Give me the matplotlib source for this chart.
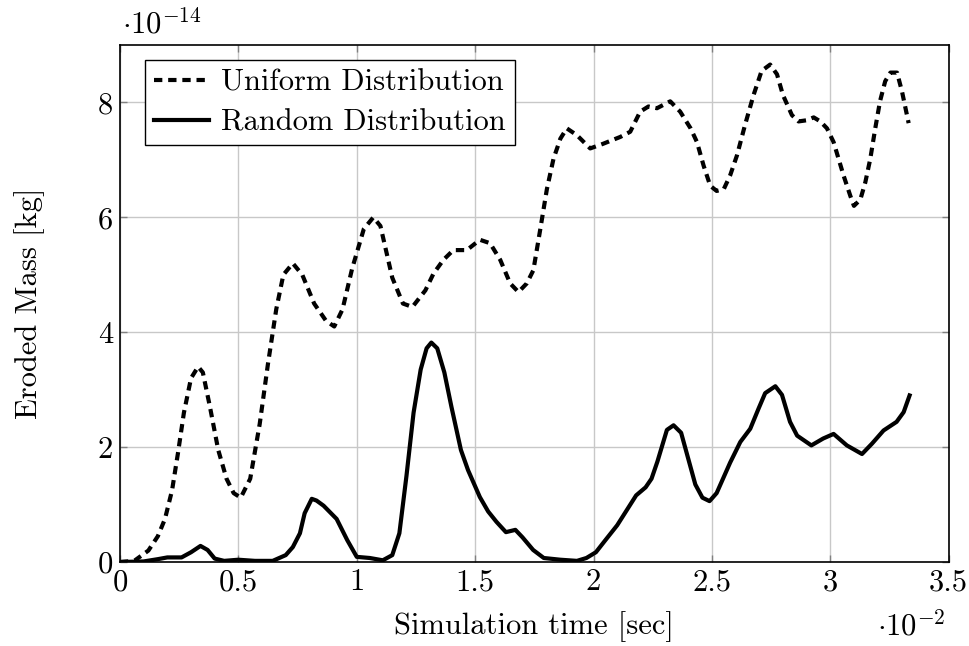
import matplotlib
matplotlib.use("Agg")
import matplotlib.pyplot as plt

plt.rcParams['font.family'] = 'serif'
plt.rcParams['font.serif'] = ['cmr10', 'DejaVu Serif']
plt.rcParams['mathtext.fontset'] = 'cm'
plt.rcParams['axes.unicode_minus'] = False
plt.rcParams['axes.formatter.use_mathtext'] = True

# time in units of 1e-2 s, mass in units of 1e-14 kg
uniform_t = [0.00, 0.06, 0.12, 0.16, 0.19, 0.22, 0.245, 0.27, 0.30, 0.33, 0.35, 0.38, 0.415,
             0.45, 0.48, 0.51, 0.55, 0.59, 0.625, 0.66, 0.69, 0.73, 0.77, 0.82, 0.87, 0.905,
             0.94, 0.98, 1.03, 1.07, 1.10, 1.15, 1.195, 1.235, 1.29, 1.324, 1.366, 1.408,
             1.465, 1.52, 1.563, 1.606, 1.648, 1.683, 1.718, 1.746, 1.775, 1.803, 1.831,
             1.86, 1.887, 1.93, 1.986, 2.04, 2.113, 2.155, 2.197, 2.232, 2.268, 2.324, 2.366,
             2.41, 2.437, 2.465, 2.493, 2.52, 2.55, 2.577, 2.606, 2.64, 2.676, 2.71, 2.746,
             2.775, 2.80, 2.838, 2.866, 2.90, 2.93, 2.958, 2.986, 3.014, 3.035, 3.056, 3.085,
             3.10, 3.127, 3.148, 3.169, 3.19, 3.21, 3.232, 3.254, 3.282, 3.303, 3.331]
uniform_m = [0.0, 0.02, 0.2, 0.45, 0.75, 1.25, 1.9, 2.6, 3.2, 3.4, 3.3, 2.7, 1.95,
             1.45, 1.2, 1.12, 1.45, 2.4, 3.45, 4.4, 5.0, 5.2, 5.0, 4.5, 4.2, 4.1,
             4.4, 5.1, 5.8, 6.0, 5.85, 4.95, 4.5, 4.44, 4.73, 5.02, 5.26, 5.43,
             5.43, 5.61, 5.55, 5.26, 4.85, 4.7, 4.85, 5.08, 5.79, 6.49, 7.02,
             7.37, 7.55, 7.43, 7.2, 7.28, 7.4, 7.49, 7.84, 7.93, 7.9, 8.02, 7.84,
             7.55, 7.31, 6.9, 6.55, 6.46, 6.49, 6.73, 7.08, 7.61, 8.13, 8.55, 8.66,
             8.49, 8.13, 7.78, 7.67, 7.69, 7.74, 7.67, 7.55, 7.31, 7.02, 6.73, 6.37,
             6.2, 6.31, 6.61, 7.02, 7.55, 8.02, 8.37, 8.52, 8.52, 8.19, 7.64]

random_t = [0.00, 0.10, 0.16, 0.20, 0.26, 0.30, 0.34, 0.37, 0.40, 0.44, 0.50, 0.57, 0.645,
            0.70, 0.73, 0.76, 0.78, 0.81, 0.83, 0.86, 0.915, 0.96, 1.00, 1.055, 1.11, 1.15,
            1.18, 1.21, 1.24, 1.27, 1.295, 1.315, 1.34, 1.37, 1.40, 1.44, 1.47, 1.52, 1.555,
            1.59, 1.63, 1.67, 1.70, 1.745, 1.79, 1.86, 1.93, 1.97, 2.01, 2.05, 2.10, 2.14,
            2.18, 2.22, 2.245, 2.27, 2.31, 2.338, 2.37, 2.40, 2.43, 2.46, 2.49, 2.52, 2.577,
            2.62, 2.662, 2.697, 2.725, 2.768, 2.796, 2.83, 2.86, 2.92, 2.97, 3.014, 3.07,
            3.134, 3.176, 3.225, 3.28, 3.31, 3.335]
random_m = [0.0, 0.01, 0.05, 0.08, 0.08, 0.17, 0.28, 0.21, 0.06, 0.02, 0.04, 0.02, 0.02,
            0.12, 0.26, 0.5, 0.85, 1.1, 1.07, 0.98, 0.75, 0.38, 0.09, 0.07, 0.03, 0.12,
            0.5, 1.5, 2.6, 3.35, 3.72, 3.82, 3.72, 3.3, 2.7, 1.95, 1.6, 1.13, 0.88,
            0.7, 0.52, 0.56, 0.43, 0.21, 0.07, 0.04, 0.02, 0.07, 0.17, 0.38, 0.64, 0.9,
            1.16, 1.3, 1.45, 1.75, 2.3, 2.38, 2.25, 1.8, 1.35, 1.12, 1.06, 1.2, 1.73,
            2.09, 2.32, 2.67, 2.94, 3.06, 2.91, 2.44, 2.2, 2.03, 2.15, 2.23, 2.03,
            1.88, 2.06, 2.29, 2.44, 2.61, 2.9]

x_ticks = [0, 0.5, 1, 1.5, 2, 2.5, 3, 3.5]
x_tick_labels = ['0', '0.5', '1', '1.5', '2', '2.5', '3', '3.5']
y_ticks = [0, 2, 4, 6, 8]
y_tick_labels = ['0', '2', '4', '6', '8']

FS = 22

fig = plt.figure(figsize=(9.7, 6.46), dpi=100)
ax = fig.add_axes([0.1237, 0.13, 0.978 - 0.1237, 0.9303 - 0.13])

ax.plot(uniform_t, uniform_m, color='black', linewidth=3.0,
        linestyle=(0, (2.0, 1.4)), dash_capstyle='butt', label='Uniform Distribution')
ax.plot(random_t, random_m, color='black', linewidth=3.0, solid_joinstyle='round',
        label='Random Distribution')

ax.set_xlim(0, 3.5)
ax.set_ylim(0, 9)
ax.set_xticks(x_ticks)
ax.set_xticklabels(x_tick_labels, fontsize=FS)
ax.set_yticks(y_ticks)
ax.set_yticklabels(y_tick_labels, fontsize=FS)
ax.grid(True, color='#c8c8c8', linewidth=1.0)
ax.set_axisbelow(True)
ax.tick_params(direction='in', length=5, width=1.0, color='#808080',
               top=True, right=True, pad=5)
for s in ax.spines.values():
    s.set_linewidth(1.2)
    s.set_color('black')

ax.set_xlabel('Simulation time [sec]', fontsize=FS)
ax.xaxis.set_label_coords(0.5, -0.095)
ax.set_ylabel('Eroded Mass [kg]', fontsize=FS)
ax.yaxis.set_label_coords(-0.09, 0.5)

fig.text(0.126, 0.963, r'$\cdot 10^{-14}$', fontsize=FS, ha='left', va='center')
fig.text(0.940, 0.032, r'$\cdot 10^{-2}$', fontsize=FS, ha='center', va='center')

leg = ax.legend(loc='upper left', bbox_to_anchor=(0.03, 0.971), fontsize=22,
                frameon=True, fancybox=False, edgecolor='black', framealpha=1,
                handlelength=1.8, handletextpad=0.4, borderpad=0.3, labelspacing=0.4,
                borderaxespad=0)
leg.get_frame().set_linewidth(1.0)

fig.savefig('out.png', dpi=100)
